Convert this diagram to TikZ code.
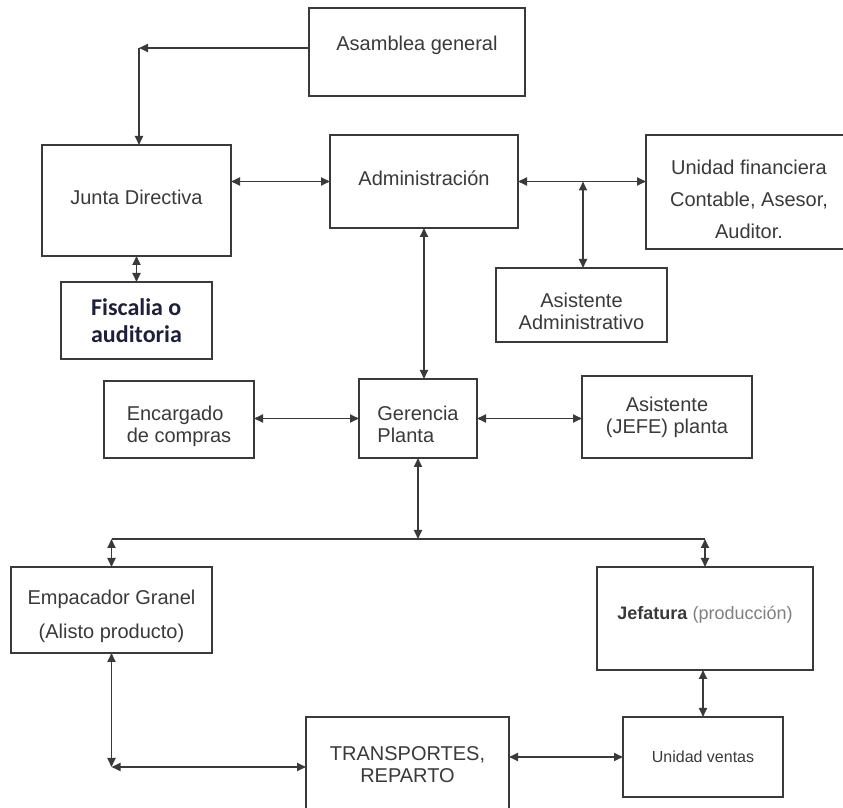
\documentclass[tikz,border=0pt]{standalone}
\usepackage{fontspec}
\setmainfont{Liberation Sans}
\newfontfamily\calibrifont{Carlito}
\usetikzlibrary{arrows.meta}
\definecolor{inkgray}{RGB}{58,58,58}
\definecolor{fiscnavy}{RGB}{30,32,58}
\newcommand{\pushdown}[1]{\rule{0pt}{#1}}
\newcommand{\pushup}[1]{\rule[-#1]{0pt}{#1}}

\begin{document}
\begin{tikzpicture}[x=0.5pt,y=-0.5pt,>={Triangle[length=4.5pt,width=4pt]}, every node/.style={font=\fontsize{10}{11}\selectfont,text=inkgray}]
    \tikzset{unit/.style={draw=inkgray,line width=0.9pt,align=center,inner sep=2pt,outer sep=0pt}}
    \tikzset{link/.style={draw=inkgray,line width=0.9pt}}
    \path[fill=white,use as bounding box] (0,0) rectangle (843,808);
    \clip (0,0) rectangle (843,808);

    % Top
    \node[unit,minimum width=108pt,minimum height=44pt] (asamblea) at (417,52) {Asamblea general\pushup{9pt}};
    \node[unit,minimum width=94.5pt,minimum height=55.5pt] (junta) at (136.5,200.5) {Junta Directiva\pushup{3.5pt}};
    \node[unit,minimum width=94pt,minimum height=46.5pt] (admin) at (424,181.5) {Administración\pushup{3.3pt}};
    \node[unit,minimum width=103pt,minimum height=57pt] (fin) at (749,192) {\pushdown{14.8pt}Unidad financiera\\[5pt]Contable, Asesor,\\[5pt]Auditor.};
    \node[unit,minimum width=85.5pt,minimum height=37pt] (asadm) at (581.5,305) {\pushdown{13.3pt}Asistente\\Administrativo};
    \node[unit,minimum width=75.5pt,minimum height=38.5pt,align=left,text=fiscnavy,font=\calibrifont\bfseries\fontsize{12}{13.5}\selectfont] (fisc) at (136.5,320.5) {Fiscalia o\\auditoria};

    % Planta
    \node[unit,minimum width=75pt,minimum height=38.5pt,align=left] (enc) at (179,419.5) {\pushdown{14.3pt}Encargado\\de compras};
    \node[unit,minimum width=59pt,minimum height=39.5pt,align=left] (ger) at (418,418.5) {\pushdown{12.8pt}Gerencia\\Planta};
    \node[unit,minimum width=85pt,minimum height=41pt] (asplanta) at (667,417) {Asistente\\(JEFE) planta};

    % Bottom
    \node[unit,minimum width=100.5pt,minimum height=43pt] (emp) at (111.5,610) {\pushdown{13.3pt}Empacador Granel\\[6pt](Alisto producto)};
    \node[unit,minimum width=108pt,minimum height=51.5pt,font=\fontsize{9}{10}\selectfont] (jef) at (705,618.5) {\textbf{Jefatura} \textcolor{gray}{(producción)}\pushup{5.7pt}};
    \node[unit,minimum width=80pt,minimum height=40pt,font=\fontsize{8}{9}\selectfont] (ventas) at (703,757) {Unidad ventas};
    \node[unit,minimum width=101.5pt,minimum height=47.5pt] (transp) at (407.5,764.5) {TRANSPORTES,\\REPARTO};

    % Links
    \coordinate (c1) at (139,48);
    \draw[link,->] (c1 -| asamblea.west) -- (c1);
    \draw[link,->] (c1) -- (c1 |- junta.north);
    \draw[link,<->] (admin.west -| junta.east) -- (admin.west);
    \draw[link,<->] (admin.east) -- (admin.east -| fin.west);
    \path (admin.east) ++(65,0) coordinate (j1);
    \draw[link,<->] (j1) -- (j1 |- asadm.north);
    \draw[link,<->] (junta.south) -- (fisc.north);
    \draw[link,<->] (admin.south) -- (admin.south |- ger.north);
    \draw[link,<->] (ger.west -| enc.east) -- (ger.west);
    \draw[link,<->] (ger.east) -- (ger.east -| asplanta.west);

    \coordinate (busmid) at (418,539);
    \coordinate (busl) at (emp.north |- busmid);
    \coordinate (busr) at (jef.north |- busmid);
    \draw[link] (busl) -- (busr);
    \draw[link,<->] (ger.south) -- (busmid);
    \draw[link,<->] (busl) -- (emp.north);
    \draw[link,<->] (busr) -- (jef.north);
    \draw[link,<->] (jef.south -| ventas.north) -- (ventas.north);
    \draw[link,<->] (ventas.west -| transp.east) -- (ventas.west);
    \coordinate (c2) at (111.5,767);
    \draw[link,<->] (emp.south) -- (c2);
    \draw[link,<->] (c2) -- (c2 -| transp.west);
\end{tikzpicture}
\end{document}
